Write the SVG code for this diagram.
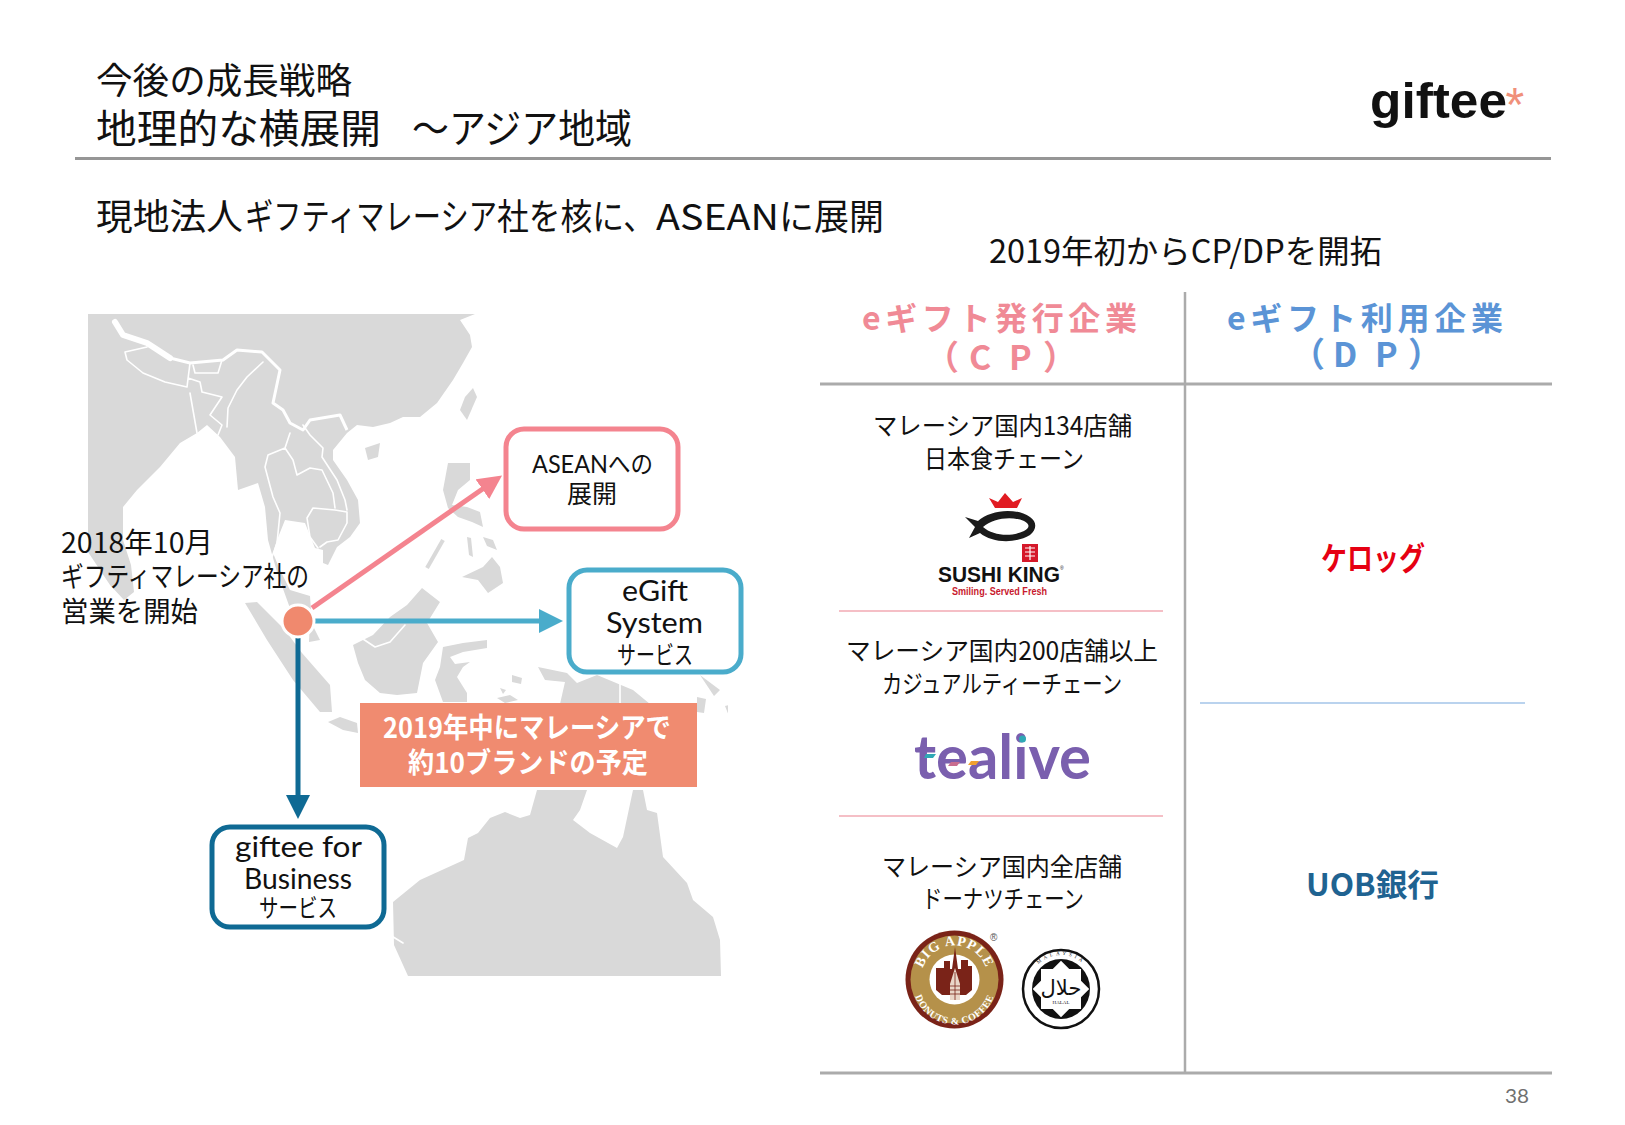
<svg xmlns="http://www.w3.org/2000/svg" width="1625" height="1125" viewBox="0 0 1625 1125">
<style>
text{font-family:"Noto Sans CJK JP","Noto Sans",sans-serif;fill:#111}
.lat{font-family:"Lato","Noto Sans CJK JP",sans-serif;font-weight:400}
.b{font-weight:700}
.land{fill:#d9d9d9}
.bd{fill:none;stroke:#fff;stroke-width:1.6;stroke-linejoin:round;stroke-linecap:round}
.box{fill:#fff;stroke-width:5}
.con{fill:none;stroke-width:5}
.rule{stroke:#ababab;stroke-width:3;fill:none}
.t25{font-size:25px}
.t28{font-size:28px}
.hd{font-size:32px;font-weight:700}
.hd2{font-size:34px;font-weight:700}
</style>
<defs>
<clipPath id="mapclip"><rect x="88" y="314" width="640" height="662"/></clipPath>
<filter id="soft" x="0" y="0" width="1" height="1"><feGaussianBlur stdDeviation="0.6"/></filter>
<marker id="ap" markerUnits="userSpaceOnUse" markerWidth="24" markerHeight="24" refX="2" refY="12" orient="auto"><path d="M0,0L24,12L0,24z" fill="#f4848f"/></marker>
<marker id="at" markerUnits="userSpaceOnUse" markerWidth="24" markerHeight="24" refX="2" refY="12" orient="auto"><path d="M0,0L24,12L0,24z" fill="#4aaccb"/></marker>
<marker id="ad" markerUnits="userSpaceOnUse" markerWidth="24" markerHeight="24" refX="2" refY="12" orient="auto"><path d="M0,0L24,12L0,24z" fill="#0f6a94"/></marker>
<path id="bigtop" d="M921,979a33,33 0 0 1 67,0"/>
<path id="bigbot" d="M913,983a41,41 0 0 0 83,0"/>
<path id="haltop" d="M1028,989a33,34 0 0 1 66,0"/>
</defs>

<g clip-path="url(#mapclip)"><g id="map" filter="url(#soft)">
<path class="land" d="M88,314H475L460,320L470,335L472,347L463,363L453,380L437,403L420,417L403,417L390,423L373,427L357,425L347,433L333,450L333,460L347,480L358,500L360,523L350,537L337,547L328,565L323,563L323,550L315,548L305,523L285,520L277,540L273,553L280,570L290,590L310,596L312,625L296,625L277,572L268,540L265,507L258,483L238,490L235,457L220,437L207,425L197,433L180,443L160,467L137,490L123,507L123,540L131,565L134,592L124,600L110,585L88,552Z"/>
<path class="land" d="M245,603L257,602L285,630L302,653L330,685L332,712L320,712L293,680L267,640Z"/>
<path class="land" d="M310,620L320,640L309,642Z"/>
<path class="land" d="M328,722L340,717L357,723L358,733L343,730Z"/>
<path class="land" d="M353,645L373,635L390,617L407,605L422,588L440,602L427,623L438,642L423,663L417,693L397,695L380,693L365,680L358,663Z"/>
<path class="land" d="M443,647L463,643L487,640L487,648L463,652L450,657L455,664L470,662L463,667L457,677L467,693L467,702L443,702L435,680L440,667Z"/>
<path class="land" d="M448,463L470,463L470,480L458,490L452,505L467,507L480,512L483,527L472,522L458,517L448,508L443,490Z"/>
<path class="land" d="M462,577L483,567L492,557L500,567L503,583L488,593L478,580Z"/>
<path class="land" d="M473,388L477,397L467,420L460,410L465,397Z"/>
<path class="land" d="M365,448L380,443L378,457L368,460Z"/>
<path class="land" d="M538,667L567,673L577,683L597,675L633,690L650,704L560,704L565,682L545,680Z"/>
<path class="land" d="M700,675L720,690L714,696ZM697,697L706,699L704,713L697,712ZM725,706L729,705L733,717L729,716Z"/>
<path class="land" d="M467,537L471,538L473,557L469,555ZM483,537L493,540L497,550L487,546ZM497,698L510,695L518,700L505,703ZM512,675L522,678L521,684L512,682ZM500,688L506,690L503,694Z"/>
<path d="M443,540L427,568" fill="none" stroke="#d9d9d9" stroke-width="4"/>
<path class="land" d="M537,790H587L580,810L573,820L590,833L617,848L623,837L633,790H643L647,810L657,813L663,857L687,883L693,900L713,917L720,940L721,976H408L394,945L393,902L420,880L464,860L468,838L478,833L490,818L505,812L520,818L530,815Z"/>
<path d="M115,322L123,335L147,343L170,358" fill="none" stroke="#fff" stroke-width="6" stroke-linecap="round" stroke-linejoin="round"/>
<path d="M170,358L190,363L223,360L237,350L262,352L280,370L273,403L283,410L290,423L303,430L310,420L340,415L347,430" fill="none" stroke="#fff" stroke-width="3" stroke-linejoin="round"/>
<path class="bd" d="M147,347L125,352L127,360L143,373L165,382L187,387L190,363M193,365L195,373L218,373L222,360M188,378L200,382L202,392L222,397L210,415L222,425L218,435M190,393L197,433M263,362L247,377L237,390L228,408L227,427M290,433L285,448L268,455L265,467L273,497L280,513L277,543L272,557M285,448L293,460L297,475L310,468L322,470L333,493L335,508M307,518L313,508L335,510L347,512L347,523L338,540L327,542L320,547M307,518L310,537L318,548M303,425L310,435L323,448L322,457L337,480L345,500L347,510M360,637L375,647L390,642L405,625M620,680V704M390,935L403,943"/>
</g></g>

<g id="title">
<text x="96" y="94" font-size="36" textLength="256" lengthAdjust="spacingAndGlyphs">今後の成長戦略</text>
<text y="143" font-size="40"><tspan x="96" textLength="285" lengthAdjust="spacingAndGlyphs">地理的な横展開</tspan> <tspan x="412" textLength="220" lengthAdjust="spacingAndGlyphs">～アジア地域</tspan></text>
<line x1="75" y1="158.500" x2="1551" y2="158.500" stroke="#969696" stroke-width="3"/>
<text y="230" font-size="36"><tspan x="96" textLength="147" lengthAdjust="spacingAndGlyphs">現地法人</tspan><tspan x="245" textLength="252" lengthAdjust="spacingAndGlyphs">ギフティマレーシア</tspan><tspan x="497" textLength="158" lengthAdjust="spacingAndGlyphs">社を核に、</tspan><tspan x="656" textLength="123" lengthAdjust="spacingAndGlyphs">ASEAN</tspan><tspan x="779" textLength="105" lengthAdjust="spacingAndGlyphs">に展開</tspan></text>
<text x="989" y="263" font-size="32" textLength="393" lengthAdjust="spacingAndGlyphs">2019年初からCP/DPを開拓</text>
</g>

<g id="logo-giftee">
<text x="1370" y="118" font-size="50" class="b" textLength="137" lengthAdjust="spacingAndGlyphs" style="font-family:'Liberation Sans',sans-serif">giftee</text>
<text x="1505.500" y="121" font-size="48" style="font-family:'Liberation Sans',sans-serif;fill:#f0907a">*</text>
</g>

<g id="note-2018">
<text x="61" y="553" class="t28" textLength="152" lengthAdjust="spacingAndGlyphs">2018年10月</text>
<text x="61" y="587" class="t28" textLength="248" lengthAdjust="spacingAndGlyphs">ギフティマレーシア社の</text>
<text x="61" y="622" class="t28" textLength="137" lengthAdjust="spacingAndGlyphs">営業を開始</text>
</g>

<g id="connectors">
<line class="con" x1="312" y1="608" x2="484" y2="488" stroke="#f4848f" marker-end="url(#ap)"/>
<line class="con" x1="315" y1="621" x2="541" y2="621" stroke="#4aaccb" marker-end="url(#at)"/>
<line class="con" x1="298" y1="637" x2="298" y2="797" stroke="#0f6a94" marker-end="url(#ad)"/>
</g>

<g id="origin"><circle cx="298" cy="621" r="16" fill="#f0896e" stroke="#fff" stroke-width="3"/></g>

<g id="node-asean">
<rect class="box" x="506" y="429" width="172" height="100" rx="18" stroke="#f4848f"/>
<text y="473" class="t25"><tspan x="532" class="lat" textLength="76" lengthAdjust="spacingAndGlyphs">ASEAN</tspan><tspan x="608" textLength="45" lengthAdjust="spacingAndGlyphs">への</tspan></text>
<text x="567" y="503" class="t25" textLength="50" lengthAdjust="spacingAndGlyphs">展開</text>
</g>
<g id="node-egift">
<rect class="box" x="569" y="570" width="172" height="102" rx="18" stroke="#4aaccb"/>
<text x="622" y="601" font-size="29" class="lat" textLength="66" lengthAdjust="spacingAndGlyphs">eGift</text>
<text x="606" y="633" font-size="29" class="lat" textLength="97" lengthAdjust="spacingAndGlyphs">System</text>
<text x="617" y="664" class="t25" textLength="76" lengthAdjust="spacingAndGlyphs">サービス</text>
</g>
<g id="node-business">
<rect class="box" x="212" y="827" width="172" height="100" rx="18" stroke="#0f6a94"/>
<text x="235" y="857" font-size="29" class="lat" textLength="127" lengthAdjust="spacingAndGlyphs">giftee for</text>
<text x="244" y="889" font-size="29" class="lat" textLength="108" lengthAdjust="spacingAndGlyphs">Business</text>
<text x="259" y="917" class="t25" textLength="78" lengthAdjust="spacingAndGlyphs">サービス</text>
</g>
<g id="banner">
<rect x="360" y="703" width="337" height="84" fill="#f08b70"/>
<text x="383" y="738" class="t28 b" style="fill:#fff" textLength="288" lengthAdjust="spacingAndGlyphs">2019年中にマレーシアで</text>
<text x="408" y="773" class="t28 b" style="fill:#fff" textLength="240" lengthAdjust="spacingAndGlyphs">約10ブランドの予定</text>
</g>

<g id="table">
<line class="rule" x1="1185" y1="292" x2="1185" y2="1073" style="stroke-width:2.500"/>
<line class="rule" x1="820" y1="384" x2="1552" y2="384"/>
<line class="rule" x1="820" y1="1073" x2="1552" y2="1073"/>
<line x1="839" y1="611" x2="1163" y2="611" stroke="#f2aab3" stroke-width="1.500"/>
<line x1="839" y1="816" x2="1163" y2="816" stroke="#f2aab3" stroke-width="1.500"/>
<line x1="1200" y1="703" x2="1525" y2="703" stroke="#a3c4e8" stroke-width="1.500"/>
</g>

<g id="header-cp">
<text x="862" y="330" class="hd" style="fill:#f08a96" textLength="275" lengthAdjust="spacing">eギフト発行企業</text>
<text x="925 969 1009 1043" y="370" class="hd2" style="fill:#f08a96">（CP）</text>
</g>
<g id="header-dp">
<text x="1227" y="330" class="hd" style="fill:#5b94d6" textLength="276" lengthAdjust="spacing">eギフト利用企業</text>
<text x="1291 1333 1375 1408" y="367" class="hd2" style="fill:#5b94d6">（DP）</text>
</g>

<g id="cp-sushi">
<text x="873" y="435" class="t25" textLength="259" lengthAdjust="spacingAndGlyphs">マレーシア国内134店舗</text>
<text x="924" y="468" class="t25" textLength="160" lengthAdjust="spacingAndGlyphs">日本食チェーン</text>
<path d="M989,498L998,502L1005,493L1013,502L1022,498L1017,508H995Z" fill="#e11b22"/>
<path fill-rule="evenodd" fill="#1a1a1a" d="M965,517L978,521C990,510 1015,507 1030,517C1037,522 1037,529 1030,535C1015,544 992,543 980,533L969,538L975,527ZM983,527C993,518 1012,516 1024,521C1030,524 1030,528 1024,531C1012,537 993,536 983,527Z"/>
<rect x="1022" y="544" width="16" height="18" fill="#d5182a"/>
<path d="M1025,548h10M1025,552h10M1025,556h10M1030,546v14" stroke="#fff" stroke-width="1.200"/>
<text x="938" y="582" font-size="22" class="b" textLength="122" lengthAdjust="spacingAndGlyphs" style="font-family:'Liberation Sans',sans-serif">SUSHI KING</text>
<text x="1060" y="570" font-size="5" style="font-family:'Liberation Sans',sans-serif">®</text>
<text x="952" y="595" font-size="10.500" class="b" textLength="95" lengthAdjust="spacingAndGlyphs" style="font-family:'Liberation Sans',sans-serif;fill:#c8192e">Smiling. Served Fresh</text>
</g>

<g id="cp-tealive">
<text x="846" y="660" class="t25" textLength="312" lengthAdjust="spacingAndGlyphs">マレーシア国内200店舗以上</text>
<text x="882" y="693" class="t25" textLength="240" lengthAdjust="spacingAndGlyphs">カジュアルティーチェーン</text>
<text x="914" y="779" font-size="62" class="b" textLength="177" lengthAdjust="spacingAndGlyphs" style="font-family:'Lato',sans-serif;fill:#7a5fae">tealive</text>
<path d="M926,754L936,754L933,758L924,758Z" fill="#2fa8b5"/>
<path d="M951,762L960,762L957,766L948,766Z" fill="#c96d8f"/>
<path d="M971,761L979,761L976,765L968,765Z" fill="#f0a030"/>
<circle cx="1022.500" cy="739" r="3.500" fill="#2fa8b5"/>
</g>

<g id="cp-bigapple">
<text x="882" y="875.500" class="t25" textLength="240" lengthAdjust="spacingAndGlyphs">マレーシア国内全店舗</text>
<text x="922" y="908" class="t25" textLength="162" lengthAdjust="spacingAndGlyphs">ドーナツチェーン</text>
<circle cx="954.500" cy="979.500" r="49" fill="#7a2318"/>
<circle cx="954.500" cy="979.500" r="44" fill="#b5914a"/>
<circle cx="954.500" cy="979.500" r="25" fill="#fff"/>
<path d="M936,990V968h8v-7h6v8h2l3,-22l3,22h3v-9h7v6h4v24l-6,5h-24Z" fill="#7a2318"/>
<path d="M950,1000V984l5,-16l5,16v16Z" fill="#e9d6c8"/>
<path d="M950,986h10M950,990h10M950,994h10M955,972v28" stroke="#7a2318" stroke-width="0.800"/>
<text class="b" font-size="14" letter-spacing="1" style="fill:#fff;font-family:'Liberation Serif',serif"><textPath href="#bigtop" startOffset="50%" text-anchor="middle">BIG APPLE</textPath></text>
<text class="b" font-size="10" letter-spacing="0.5" style="fill:#fff;font-family:'Liberation Serif',serif"><textPath href="#bigbot" startOffset="50%" text-anchor="middle">DONUTS &amp; COFFEE</textPath></text>
<text x="990" y="941" font-size="10" style="font-family:'Liberation Sans',sans-serif;fill:#555">®</text>
</g>

<g id="cp-halal">
<ellipse cx="1061" cy="989" rx="38" ry="39" fill="#fff" stroke="#111" stroke-width="2.500"/>
<ellipse cx="1061" cy="989" rx="29" ry="30" fill="#111"/>
<rect x="1041" y="969" width="40" height="40" fill="#fff"/>
<rect x="1041" y="969" width="40" height="40" fill="#fff" transform="rotate(45 1061 989)"/>
<text x="1061" y="995" text-anchor="middle" font-size="21" style="font-family:'DejaVu Sans',sans-serif;fill:#111">حلال</text>
<text x="1061" y="1004" text-anchor="middle" font-size="5" style="font-family:'Liberation Serif',serif;fill:#111">HALAL</text>
<text font-size="5" style="font-family:'Liberation Serif',serif;fill:#111"><textPath href="#haltop" startOffset="50%" text-anchor="middle" letter-spacing="3">MALAYSIA</textPath></text>
</g>

<g id="dp-kellogg"><text x="1321" y="570" font-size="32" class="b" style="fill:#e60012" textLength="104" lengthAdjust="spacingAndGlyphs">ケロッグ</text></g>
<g id="dp-uob"><text x="1306" y="896" font-size="31" class="b" style="fill:#1f6391" textLength="133" lengthAdjust="spacingAndGlyphs">UOB銀行</text></g>
<text id="page" x="1505" y="1103" font-size="20" class="lat" style="fill:#707070" textLength="24" lengthAdjust="spacingAndGlyphs">38</text>
</svg>
